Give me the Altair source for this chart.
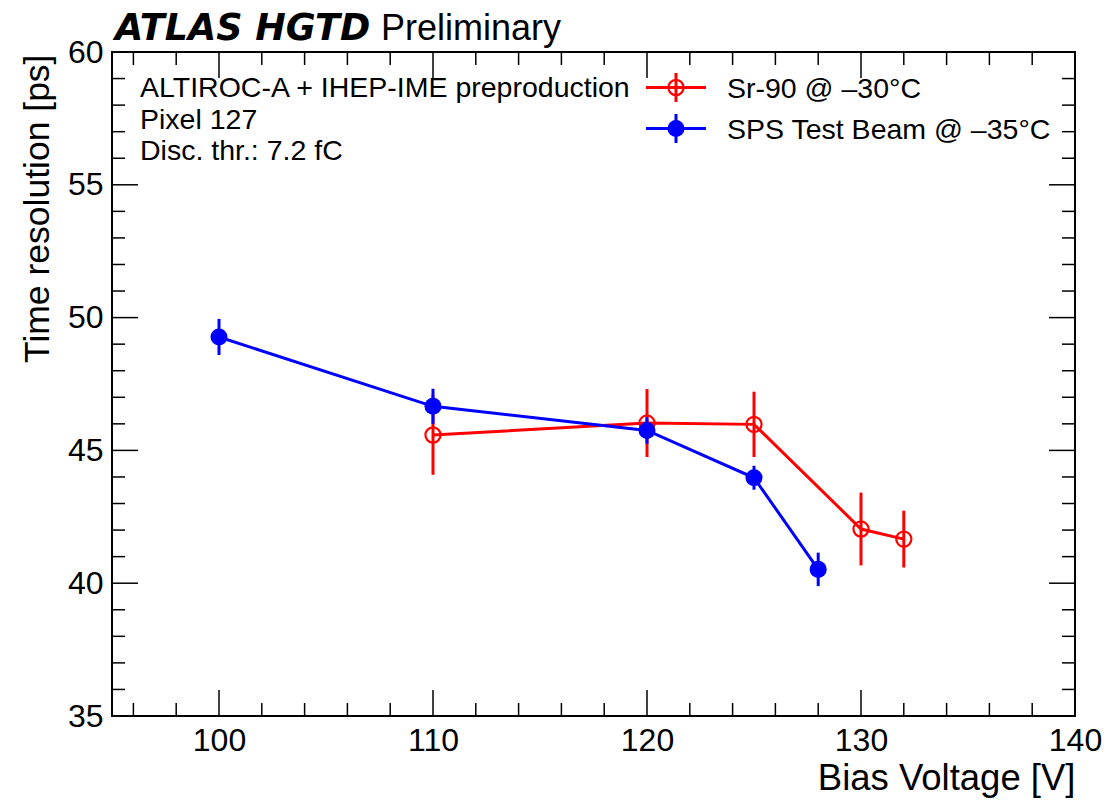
import altair as alt
import pandas as pd

# ---- data ----
sr_voltage = [110, 120, 125, 130, 132]
sr_time = [45.58, 46.03, 45.98, 42.04, 41.66]
sr_err = [1.50, 1.28, 1.23, 1.37, 1.07]

tb_voltage = [100, 110, 120, 125, 128]
tb_time = [49.27, 46.66, 45.75, 43.97, 40.52]
tb_err = [0.68, 0.66, 0.50, 0.45, 0.63]

x_labels = [100, 110, 120, 130, 140]
y_labels = [35, 40, 45, 50, 55, 60]
x_major = [100, 110, 120, 130]
x_minor = [96, 98, 102, 104, 106, 108, 112, 114, 116, 118, 122, 124, 126, 128,
           132, 134, 136, 138]
y_major = [40, 45, 50, 55]
y_minor = [36, 37, 38, 39, 41, 42, 43, 44, 46, 47, 48, 49, 51, 52, 53, 54,
           56, 57, 58, 59]

legend_labels = ["Sr-90 @ –30°C", "SPS Test Beam @ –35°C"]
info_lines = ["ALTIROC-A + IHEP-IME preproduction", "Pixel 127", "Disc. thr.: 7.2 fC"]

RED = "#ff0000"
BLUE = "#0000ff"
FONT = "Liberation Sans"
W, H = 963, 664
TXT = 28.5

sr = pd.DataFrame({"v": sr_voltage, "t": sr_time,
                   "lo": [a - b for a, b in zip(sr_time, sr_err)],
                   "hi": [a + b for a, b in zip(sr_time, sr_err)]})
tb = pd.DataFrame({"v": tb_voltage, "t": tb_time,
                   "lo": [a - b for a, b in zip(tb_time, tb_err)],
                   "hi": [a + b for a, b in zip(tb_time, tb_err)]})

xs = alt.Scale(domain=[95, 140], nice=False, zero=False)
ys = alt.Scale(domain=[35, 60], nice=False, zero=False)

x_axis = alt.Axis(values=x_labels, title="Bias Voltage [V]", grid=False, domain=False,
                  ticks=False, tickSize=0, labelFontSize=32, labelFont=FONT,
                  labelPadding=34, labelBaseline="alphabetic", labelFlush=False,
                  labelOverlap=False, labelColor="black",
                  titleFont=FONT, titleFontSize=36.5, titleFontWeight="normal",
                  titleColor="black", titleAnchor="end", titleAlign="right",
                  titleBaseline="alphabetic", titleX=W, titleY=73)
y_axis = alt.Axis(values=y_labels, title="Time resolution [ps]", grid=False, domain=False,
                  ticks=False, tickSize=0, labelFontSize=32, labelFont=FONT,
                  labelPadding=9, labelFlush=False, labelOverlap=False,
                  labelColor="black", labelBaseline="middle",
                  titleFont=FONT, titleFontSize=35.5, titleFontWeight="normal",
                  titleColor="black", titleAngle=270, titleAlign="right",
                  titleBaseline="alphabetic", titleX=-64, titleY=2)

X = lambda f: alt.X(f, scale=xs, axis=x_axis)
Y = lambda f: alt.Y(f, scale=ys, axis=y_axis)


def errbars(df, color):
    return alt.Chart(df).mark_rule(color=color, strokeWidth=3).encode(
        x=X("v:Q"), y=Y("lo:Q"), y2="hi:Q")


def line(df, color):
    return alt.Chart(df).mark_line(color=color, strokeWidth=3).encode(
        x=X("v:Q"), y=Y("t:Q"))


sr_pts = alt.Chart(sr).mark_point(shape="circle", filled=False, color=RED,
                                  strokeWidth=2.2, size=230, opacity=1).encode(
    x=X("v:Q"), y=Y("t:Q"))
tb_pts = alt.Chart(tb).mark_point(shape="circle", filled=True, color=BLUE,
                                  size=290, opacity=1).encode(
    x=X("v:Q"), y=Y("t:Q"))


def xticks(vals, length):
    d = pd.DataFrame({"v": vals})
    b = alt.Chart(d).mark_rule(color="black", strokeWidth=1.5).encode(
        x=X("v:Q"), y=alt.value(H), y2=alt.value(H - length))
    t = alt.Chart(d).mark_rule(color="black", strokeWidth=1.5).encode(
        x=X("v:Q"), y=alt.value(0), y2=alt.value(length))
    return [b, t]


def yticks(vals, length):
    d = pd.DataFrame({"v": vals})
    l = alt.Chart(d).mark_rule(color="black", strokeWidth=1.5).encode(
        y=Y("v:Q"), x=alt.value(0), x2=alt.value(length))
    r = alt.Chart(d).mark_rule(color="black", strokeWidth=1.5).encode(
        y=Y("v:Q"), x=alt.value(W), x2=alt.value(W - length))
    return [l, r]


def text(s, x, y, size, font=FONT, weight="normal", style="normal"):
    return alt.Chart(pd.DataFrame({"s": [s]})).mark_text(
        align="left", baseline="alphabetic", font=font, fontSize=size,
        fontWeight=weight, fontStyle=style, color="black").encode(
        text="s:N", x=alt.value(x), y=alt.value(y))


ticks = xticks(x_major, 26) + xticks(x_minor, 13) + yticks(y_major, 26) + yticks(y_minor, 13)

# legend (drawn by hand, ROOT style)
legend = []
for i, (lab, col) in enumerate(zip(legend_labels, [RED, BLUE])):
    cy = [35.5, 76.5][i]
    one = pd.DataFrame({"s": [lab]})
    legend.append(alt.Chart(one).mark_rule(color=col, strokeWidth=3).encode(
        x=alt.value(534), x2=alt.value(594), y=alt.value(cy)))
    legend.append(alt.Chart(one).mark_rule(color=col, strokeWidth=3).encode(
        x=alt.value(564), y=alt.value(cy - 14.5), y2=alt.value(cy + 14.5)))
    if i == 0:
        legend.append(alt.Chart(one).mark_point(shape="circle", filled=False, color=col,
                                                strokeWidth=2.2, size=230, opacity=1).encode(
            x=alt.value(564), y=alt.value(cy)))
    else:
        legend.append(alt.Chart(one).mark_point(shape="circle", filled=True, color=col,
                                                size=290, opacity=1).encode(
            x=alt.value(564), y=alt.value(cy)))
    legend.append(text(lab, 615, [46, 87][i], TXT))

texts = [
    text("ATLAS HGTD", 3, -12, 36.5, font="DejaVu Sans", weight="bold", style="italic"),
    text("Preliminary", 269, -12, 36),
    text(info_lines[0], 28, 45, TXT),
    text(info_lines[1], 28, 77, TXT),
    text(info_lines[2], 28, 108, TXT),
]

chart = alt.layer(
    errbars(sr, RED), line(sr, RED), sr_pts,
    errbars(tb, BLUE), line(tb, BLUE), tb_pts,
    *ticks, *legend, *texts
).properties(
    width=W, height=H,
    background="white",
    autosize=alt.AutoSizeParams(type="none"),
    padding={"left": 112, "top": 52, "right": 35, "bottom": 84},
).configure_view(stroke="black", strokeWidth=2)

chart.save("out.html", embed_options={"renderer": "svg", "actions": False})
